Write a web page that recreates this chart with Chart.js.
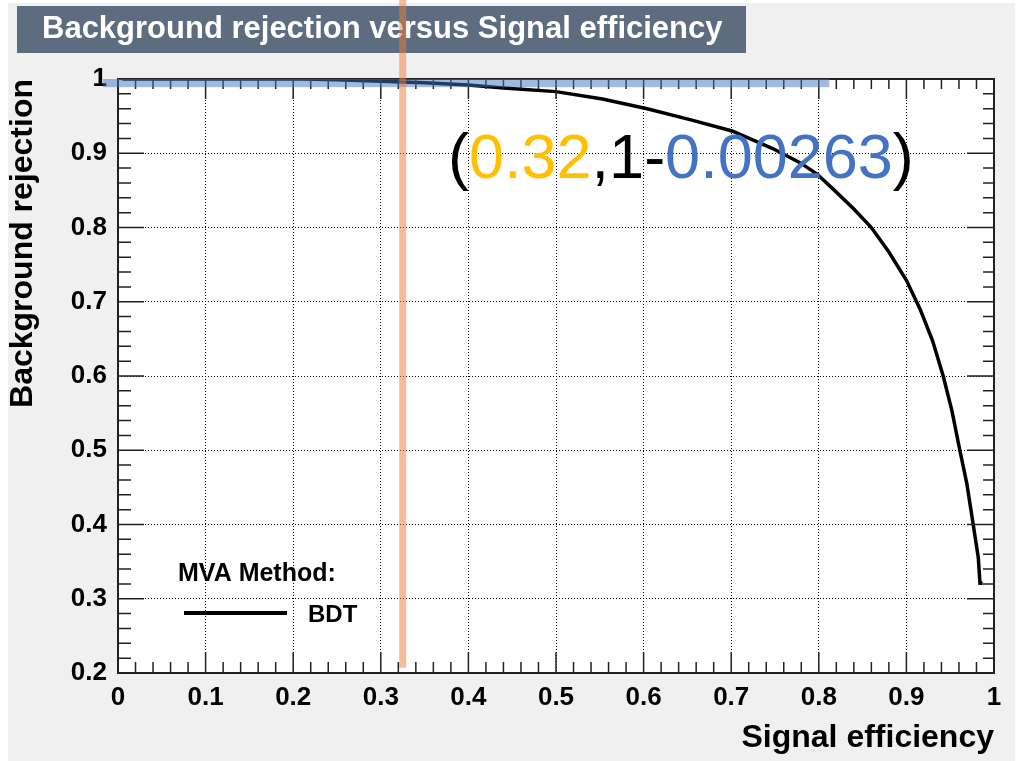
<!DOCTYPE html>
<html>
<head>
<meta charset="utf-8">
<script src="https://cdn.jsdelivr.net/npm/chart.js@4.4.0/dist/chart.umd.min.js"></script>
<style>
  html, body { margin: 0; padding: 0; background: #fff; }
  canvas { display: block; }
</style>
</head>
<body>
<canvas id="roc" width="1035" height="761"></canvas>
<script>
// ROC curve of the BDT
const signalEff = [0.005, 0.21, 0.25, 0.30, 0.35, 0.40, 0.44, 0.50, 0.553, 0.604, 0.654, 0.701, 0.748, 0.779,
                   0.798, 0.817, 0.840, 0.860, 0.880, 0.900, 0.916, 0.930, 0.942, 0.952, 0.961, 0.969, 0.976, 0.982, 0.984, 0.987];
const bkgRejection = [1.000, 1.000, 0.999, 0.997, 0.995, 0.992, 0.988, 0.983, 0.973, 0.960, 0.945, 0.930, 0.906, 0.887,
                      0.872, 0.851, 0.825, 0.800, 0.767, 0.729, 0.689, 0.647, 0.600, 0.553, 0.500, 0.455, 0.402, 0.356, 0.321, 0.321];
const methodName = 'BDT';

// working point annotation
const cutEff = 0.32;
const cutLeak = 0.00263;
const cutLineX = 0.325;
const cutLineBottom = 0.207;
const bandX = [-0.017, 0.812];
const bandY = [0.989, 1.0];

const FONT = '"Liberation Sans", Arial, Helvetica, sans-serif';

const rootStyle = {
    id: 'rootStyle',
    beforeDraw(chart) {
        const { ctx, chartArea: a } = chart;
        ctx.save();
        ctx.fillStyle = '#ffffff';
        ctx.fillRect(0, 0, chart.width, chart.height);
        ctx.fillStyle = '#f0f0f0';
        ctx.fillRect(8, 3, 1007, 758);
        ctx.fillStyle = '#ffffff';
        ctx.fillRect(a.left, a.top, a.right - a.left, a.bottom - a.top);

        // title box
        ctx.fillStyle = '#5e6c80';
        ctx.fillRect(17, 6, 729, 47);
        ctx.fillStyle = '#ffffff';
        ctx.font = 'bold 31px ' + FONT;
        ctx.textBaseline = 'alphabetic';
        ctx.fillText('Background rejection versus Signal efficiency', 42, 38);
        ctx.restore();
    },
    afterDatasetsDraw(chart) {
        const { ctx, chartArea: a, scales: { x, y } } = chart;
        ctx.save();

        // inward ticks on all four sides, 5 subdivisions
        ctx.strokeStyle = '#222';
        ctx.lineWidth = 1.5;
        ctx.beginPath();
        for (let i = 0; i <= 50; i++) {
            const px = x.getPixelForValue(x.min + (x.max - x.min) * i / 50);
            const major = i % 5 === 0;
            ctx.moveTo(px, a.bottom);
            ctx.lineTo(px, a.bottom - (major ? 21 : 11));
            ctx.moveTo(px, a.top);
            ctx.lineTo(px, a.top + (major ? 20 : 10));
        }
        for (let i = 0; i <= 40; i++) {
            const py = y.getPixelForValue(y.min + (y.max - y.min) * i / 40);
            const major = i % 5 === 0;
            ctx.moveTo(a.left, py);
            ctx.lineTo(a.left + (major ? 26 : 13), py);
            ctx.moveTo(a.right, py);
            ctx.lineTo(a.right - (major ? 27 : 11), py);
        }
        ctx.stroke();

        ctx.lineWidth = 2;
        ctx.strokeRect(a.left, a.top, a.right - a.left, a.bottom - a.top);

        // legend
        ctx.fillStyle = '#000';
        ctx.textBaseline = 'alphabetic';
        ctx.font = 'bold 25px ' + FONT;
        ctx.fillText('MVA Method:', 178, 581);
        ctx.font = 'bold 24px ' + FONT;
        ctx.fillText(chart.data.datasets[0].label, 308, 622);
        ctx.strokeStyle = '#000';
        ctx.lineWidth = 4;
        ctx.beginPath();
        ctx.moveTo(184, 613);
        ctx.lineTo(287, 613);
        ctx.stroke();
        ctx.restore();
    },
    afterDraw(chart) {
        const { ctx, scales: { x, y } } = chart;
        ctx.save();

        // highlight band along rejection = 1
        const bx0 = x.getPixelForValue(bandX[0]);
        const bx1 = x.getPixelForValue(bandX[1]);
        const by0 = y.getPixelForValue(bandY[1]);
        const by1 = y.getPixelForValue(bandY[0]);
        ctx.fillStyle = 'rgba(68,114,196,0.5)';
        ctx.fillRect(bx0, by0, bx1 - bx0, by1 - by0);

        // cut line
        const cx = x.getPixelForValue(cutLineX);
        const cb = y.getPixelForValue(cutLineBottom);
        ctx.fillStyle = 'rgba(237,125,49,0.5)';
        ctx.fillRect(cx - 3.5, 0, 7, cb);

        // working point label
        const parts = [
            ['(', '#000000'],
            [String(cutEff), '#ffc000'],
            [',1-', '#000000'],
            [String(cutLeak), '#4472c4'],
            [')', '#000000']
        ];
        ctx.font = '63px ' + FONT;
        ctx.textBaseline = 'alphabetic';
        let tx = 448;
        parts.forEach(([txt, col]) => {
            ctx.fillStyle = col;
            ctx.fillText(txt, tx, 178);
            tx += ctx.measureText(txt).width;
        });
        ctx.restore();
    }
};

new Chart(document.getElementById('roc'), {
    type: 'line',
    data: {
        datasets: [{
            label: methodName,
            data: signalEff.map((v, i) => ({ x: v, y: bkgRejection[i] })),
            borderColor: '#000000',
            borderWidth: 3.5,
            pointRadius: 0,
            tension: 0,
            fill: false
        }]
    },
    options: {
        responsive: false,
        animation: false,
        devicePixelRatio: 1,
        layout: { padding: { left: 0, top: 79, right: 41, bottom: 0 } },
        plugins: { legend: { display: false }, tooltip: { enabled: false } },
        scales: {
            x: {
                type: 'linear',
                min: 0,
                max: 1,
                afterFit(scale) { scale.height = 88; },
                ticks: {
                    stepSize: 0.1,
                    autoSkip: false,
                    maxRotation: 0,
                    padding: 9,
                    color: '#000',
                    font: { family: FONT, size: 26, weight: 'bold' },
                    callback: v => String(+v.toFixed(1))
                },
                grid: { color: '#000', lineWidth: 1, drawTicks: false },
                border: { display: false, dash: [1, 2] },
                title: {
                    display: true,
                    text: 'Signal efficiency',
                    align: 'end',
                    color: '#000',
                    font: { family: FONT, size: 32, weight: 'bold' },
                    padding: { top: 0, bottom: 4 }
                }
            },
            y: {
                type: 'linear',
                min: 0.2,
                max: 1,
                afterFit(scale) { scale.width = 118; },
                ticks: {
                    stepSize: 0.1,
                    autoSkip: false,
                    padding: 11,
                    color: '#000',
                    font: { family: FONT, size: 26, weight: 'bold' },
                    callback: v => String(+v.toFixed(1))
                },
                grid: { color: '#000', lineWidth: 1, drawTicks: false },
                border: { display: false, dash: [1, 2] },
                title: {
                    display: true,
                    text: 'Background rejection',
                    align: 'end',
                    color: '#000',
                    font: { family: FONT, size: 32, weight: 'bold' },
                    padding: { top: 4, bottom: 0 }
                }
            }
        }
    },
    plugins: [rootStyle]
});
</script>
</body>
</html>
